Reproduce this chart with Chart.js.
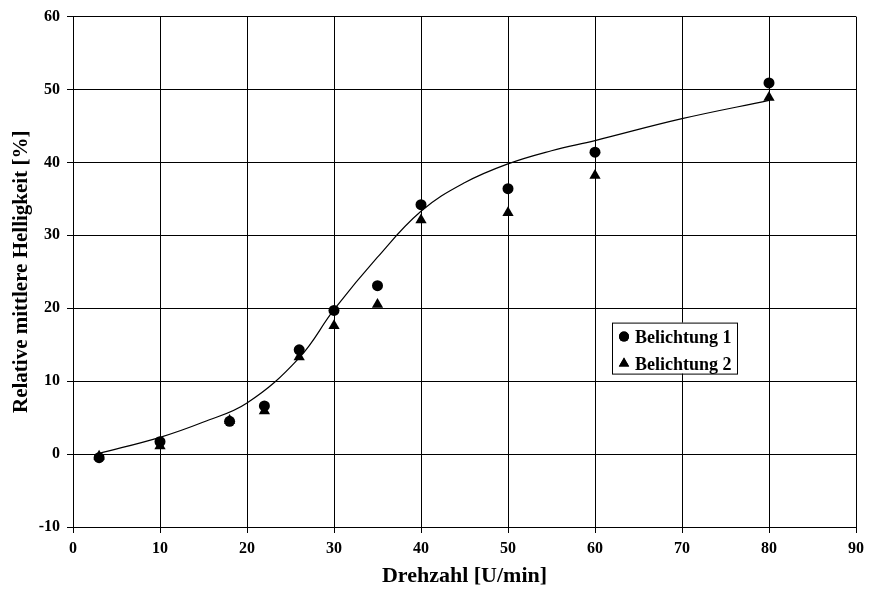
<!DOCTYPE html>
<html>
<head>
<meta charset="utf-8">
<title>Helligkeit</title>
<script src="https://cdn.jsdelivr.net/npm/chart.js@4.4.1/dist/chart.umd.min.js"></script>
<style>
    body { margin: 0; background: #fff; }
    #wrap { width: 870px; height: 590px; }
</style>
</head>
<body>
<div id="wrap"><canvas id="myChart" width="870" height="590"></canvas></div>
<script>

// Drehzahl [U/min] of the measurements
const drehzahl = [3, 10, 18, 22, 26, 30, 35, 40, 50, 60, 80];

// relative mittlere Helligkeit [%]
const belichtung1 = [-0.5, 1.7, 4.5, 6.6, 14.3, 19.7, 23.1, 34.2, 36.4, 41.4, 50.9];
const belichtung2 = [-0.3, 1.1, 4.6, 5.9, 13.3, 17.6, 20.5, 32.1, 33.1, 38.2, 48.9];

// fitted curve
const kurveX = [3, 10, 15, 20, 26, 30, 35, 40, 45, 50, 55, 60, 70, 80];
const kurveY = [0.1, 2.3, 4.4, 7.0, 13.2, 19.8, 27.0, 33.3, 37.2, 39.8, 41.6, 43.0, 46.0, 48.5];

const xTicks = [0, 10, 20, 30, 40, 50, 60, 70, 80, 90];
const yTicks = [-10, 0, 10, 20, 30, 40, 50, 60];

const SERIF = "'Liberation Serif', 'Times New Roman', serif";

function toPoints(xs, ys) {
    return xs.map(function (x, i) { return { x: x, y: ys[i] }; });
}

// small framed legend inside the plot
const boxLegend = {
    id: 'boxLegend',
    afterDraw: function (chart) {
        const ctx = chart.ctx;
        const area = chart.chartArea;
        const left = area.left + 539;
        const top = area.top + 306;
        const w = 125, h = 51;

        ctx.save();
        ctx.fillStyle = '#fff';
        ctx.fillRect(left, top, w, h);
        ctx.strokeStyle = '#000';
        ctx.lineWidth = 1;
        ctx.strokeRect(left + 0.5, top + 0.5, w, h);

        ctx.font = 'bold 18px ' + SERIF;
        ctx.textBaseline = 'alphabetic';
        ctx.fillStyle = '#000';

        const rows = [chart.data.datasets[1], chart.data.datasets[2]];
        rows.forEach(function (ds, i) {
            const cy = top + 14 + i * 27;
            Chart.helpers.drawPoint(ctx, {
                pointStyle: ds.pointStyle,
                radius: ds.pointStyle === 'triangle' ? 6 : 5,
                borderWidth: 0
            }, left + 12, cy);
            ctx.fill();
            ctx.fillText(ds.label, left + 23, cy + 6);
        });
        ctx.restore();
    }
};

function LoadChart() {
    const ctx = document.getElementById('myChart');

    new Chart(ctx, {
        type: 'scatter',
        data: {
            datasets: [{
                label: 'Kurve',
                data: toPoints(kurveX, kurveY),
                showLine: true,
                borderColor: '#000',
                borderWidth: 1.2,
                pointRadius: 0,
                tension: 0.4,
                order: 3
            }, {
                label: 'Belichtung 1',
                data: toPoints(drehzahl, belichtung1),
                pointStyle: 'circle',
                pointRadius: 5.5,
                backgroundColor: '#000',
                borderColor: '#000',
                borderWidth: 0,
                order: 2
            }, {
                label: 'Belichtung 2',
                data: toPoints(drehzahl, belichtung2),
                pointStyle: 'triangle',
                pointRadius: 6.5,
                backgroundColor: '#000',
                borderColor: '#000',
                borderWidth: 0,
                order: 1
            }]
        },
        options: {
            responsive: false,
            animation: false,
            devicePixelRatio: 1,
            layout: { padding: { top: 14, right: 13, left: 0, bottom: 0 } },
            plugins: {
                legend: { display: false },
                tooltip: { enabled: false }
            },
            scales: {
                x: {
                    type: 'linear',
                    min: 0,
                    max: 90,
                    afterBuildTicks: function (axis) {
                        axis.ticks = xTicks.map(function (v) { return { value: v }; });
                    },
                    afterFit: function (axis) { axis.height = 63; },
                    grid: { color: '#000', lineWidth: 1, tickLength: 6 },
                    border: { color: '#000', width: 1 },
                    ticks: {
                        color: '#000',
                        padding: 6,
                        maxRotation: 0,
                        font: { family: SERIF, size: 16, weight: 'bold' }
                    },
                    title: {
                        display: true,
                        text: 'Drehzahl [U/min]',
                        color: '#000',
                        padding: { top: 0, bottom: 0 },
                        font: { family: SERIF, size: 22, weight: 'bold' }
                    }
                },
                y: {
                    type: 'linear',
                    min: -10,
                    max: 60,
                    afterBuildTicks: function (axis) {
                        axis.ticks = yTicks.map(function (v) { return { value: v }; });
                    },
                    afterFit: function (axis) { axis.width = 73; },
                    grid: { color: '#000', lineWidth: 1, tickLength: 6 },
                    border: { color: '#000', width: 1 },
                    ticks: {
                        color: '#000',
                        padding: 7,
                        font: { family: SERIF, size: 16, weight: 'bold' }
                    },
                    title: {
                        display: true,
                        text: 'Relative mittlere Helligkeit [%]',
                        color: '#000',
                        padding: { top: 9, bottom: 0 },
                        font: { family: SERIF, size: 21, weight: 'bold' }
                    }
                }
            }
        },
        plugins: [boxLegend]
    });
}

LoadChart();
</script>
</body>
</html>
